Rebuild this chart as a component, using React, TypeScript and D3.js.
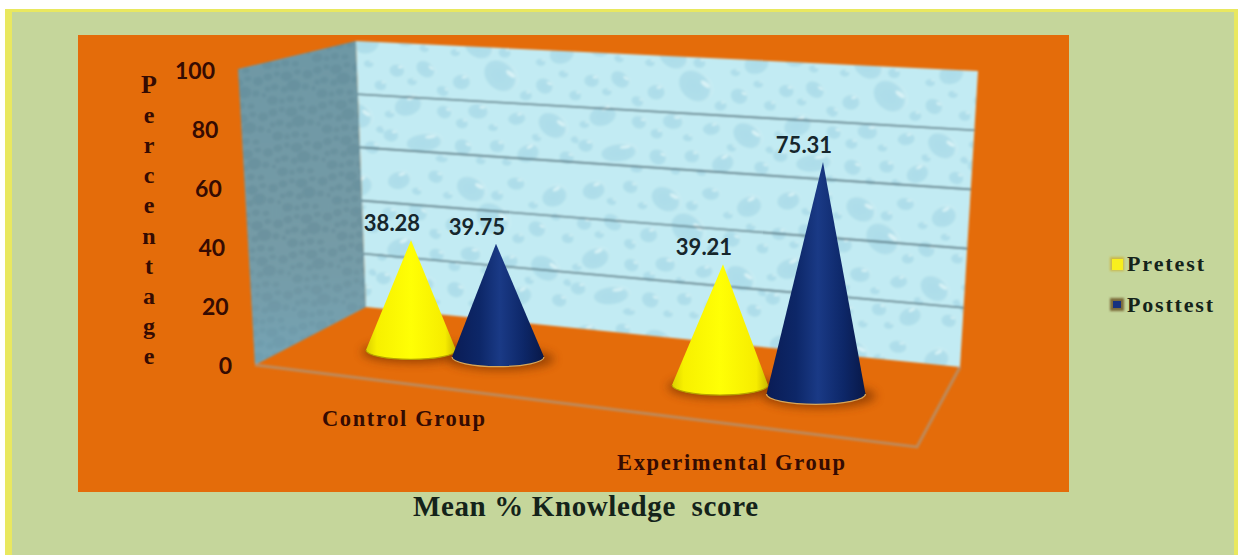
import React from "react";
import * as d3 from "d3";

// Chart values
const groups = ["Control Group", "Experimental Group"];
const seriesNames = ["Pretest", "Posttest"];
const pretest = [38.28, 39.21];
const posttest = [39.75, 75.31];
const yTicks = [0, 20, 40, 60, 80, 100];
const axisTitle = "Percentage";
const chartTitle = "Mean % Knowledge  score";

// Droplets of one wallpaper tile: x, y, rx, ry, rotation
const droplets: number[][] = [
  [14, 12, 9, 7, -20], [42, 8, 6, 5, 10], [70, 16, 12, 9, 25], [104, 10, 7, 5, 0], [134, 18, 10, 8, -30],
  [8, 38, 6, 5, 0], [30, 36, 8, 6, 30], [58, 44, 7, 6, -10], [88, 38, 14, 11, 35], [122, 44, 7, 6, 20],
  [146, 50, 5, 4, 0], [18, 64, 11, 8, -25], [46, 68, 6, 5, 15], [72, 66, 8, 6, 0], [102, 70, 7, 5, -15],
  [130, 74, 12, 9, 30], [6, 88, 6, 5, 0], [32, 92, 14, 7, -10], [62, 94, 7, 6, 20], [88, 92, 6, 5, 0],
  [112, 96, 9, 7, -30], [142, 98, 6, 5, 10], [52, 22, 4, 3, 0], [118, 26, 4, 3, 0], [84, 78, 4, 3, 0],
  [28, 20, 4, 3, 10], [90, 20, 5, 4, 0], [44, 52, 5, 4, 20], [108, 52, 5, 4, -10], [136, 34, 4, 3, 0],
  [20, 46, 4, 3, 0], [60, 76, 5, 4, 0], [118, 84, 4, 3, 15], [46, 104, 5, 3, 0], [76, 104, 4, 3, 0],
  [148, 84, 4, 3, 0], [4, 72, 4, 3, 0], [96, 104, 4, 3, 0],
];

const W = 1238;
const H = 555;
const INK = "#350b02";

// The back wall is a quadrilateral: each edge has its own value-to-pixel scale
const wallLeftY = d3.scaleLinear().domain([0, 100]).range([307, 41]);
const wallRightY = d3.scaleLinear().domain([0, 100]).range([367, 71]);
const wallLeftX = d3.scaleLinear().domain([0, 100]).range([366, 356]);
const wallRightX = d3.scaleLinear().domain([0, 100]).range([960, 978]);
const sideFrontX = d3.scaleLinear().domain([0, 100]).range([255, 238]);
const sideFrontY = d3.scaleLinear().domain([0, 100]).range([365, 69]);

// Tick labels follow the front edge of the side wall
const tickRight = d3.scaleLinear().domain([0, 100]).range([232, 215]);
const tickMiddle = d3.scaleLinear().domain([0, 100]).range([366, 71]);

// Position along the floor: group index plus a fraction for the series
const slots = [0, 0.28, 1, 1.3];
const baseX = d3.scaleLinear().domain(slots).range([411, 498, 720, 816]);
const baseY = d3.scaleLinear().domain(slots).range([350, 357, 385, 394]);
const apexX = d3.scaleLinear().domain(slots).range([411, 496, 723, 823]);
const baseR = d3.scaleLinear().domain(slots).range([45, 46, 48, 49.5]);
const unitPx = d3.scaleLinear().domain(slots).range([2.87, 2.85, 3.08, 3.08]);

type Cone = { value: number; slot: number; series: number };
const cones: Cone[] = groups.flatMap((_, g) => [
  { value: pretest[g], slot: g, series: 0 },
  { value: posttest[g], slot: g + (g === 0 ? 0.28 : 0.3), series: 1 },
]);

const polygon = (pts: [number, number][]) => (d3.line()(pts) ?? "") + "Z";

function conePath(c: Cone) {
  const x = baseX(c.slot);
  const y = baseY(c.slot);
  const r = baseR(c.slot);
  const ry = r * 0.21;
  const tipY = y - c.value * unitPx(c.slot);
  return `M${x - r},${y}L${apexX(c.slot)},${tipY}L${x + r},${y}A${r},${ry} 0 0 1 ${x - r},${y}Z`;
}

const letterSpots = d3.scaleLinear().domain([0, axisTitle.length - 1]).range([93, 364]);

const sideQuad = polygon([
  [sideFrontX(100), sideFrontY(100)],
  [wallLeftX(100), wallLeftY(100)],
  [wallLeftX(0), wallLeftY(0)],
  [sideFrontX(0), sideFrontY(0)],
]);
const backQuad = polygon([
  [wallLeftX(100), wallLeftY(100)],
  [wallRightX(100), wallRightY(100)],
  [wallRightX(0), wallRightY(0)],
  [wallLeftX(0), wallLeftY(0)],
]);

export default function App() {
  return (
    <svg
      width={W}
      height={H}
      viewBox={`0 0 ${W} ${H}`}
      style={{ position: "absolute", left: 0, top: 0, display: "block" }}
    >
      <defs>
        <radialGradient id="drop" cx="0.45" cy="0.55" r="0.6">
          <stop offset="0" stopColor="#a6d8e6" stopOpacity={0.75} />
          <stop offset="0.75" stopColor="#a4d7e5" stopOpacity={0.6} />
          <stop offset="1" stopColor="#e8fafc" stopOpacity={0.6} />
        </radialGradient>
        <pattern id="waterTile" width={150} height={110} patternUnits="userSpaceOnUse" patternTransform="rotate(3) scale(1.3)">
          <rect width={150} height={110} fill="#c2ebf3" />
          {droplets.map(([x, y, rx, ry, rot], i) => (
            <g key={i} transform={`translate(${x},${y}) rotate(${rot})`}>
              <ellipse rx={rx} ry={ry} fill="url(#drop)" />
              <ellipse cx={rx * 0.35} cy={-ry * 0.5} rx={rx * 0.3} ry={ry * 0.16} fill="#eafbfc" opacity={0.7} />
            </g>
          ))}
        </pattern>
        <pattern id="sideTile" width={50} height={36} patternUnits="userSpaceOnUse" patternTransform="rotate(-8)">
          <rect width={50} height={36} fill="#7199a5" />
          {droplets.slice(0, 15).map(([x, y, rx, ry], i) => (
            <ellipse key={i} cx={x * 0.33} cy={y * 0.46} rx={rx * 0.5} ry={ry * 0.55} fill="#628a97" opacity={0.6} />
          ))}
        </pattern>
        <linearGradient id="sideFade" x1="0" y1="0" x2="0" y2="1">
          <stop offset="0" stopColor="#5f95a8" stopOpacity={0.2} />
          <stop offset="0.6" stopColor="#8aa5ad" stopOpacity={0.12} />
          <stop offset="1" stopColor="#78b2ca" stopOpacity={0.45} />
        </linearGradient>
        <linearGradient id="cone0" x1="0" y1="0" x2="1" y2="0">
          <stop offset="0" stopColor="#dcd000" />
          <stop offset="0.12" stopColor="#f7f000" />
          <stop offset="0.5" stopColor="#ffff05" />
          <stop offset="0.88" stopColor="#f6ec00" />
          <stop offset="1" stopColor="#c9b800" />
        </linearGradient>
        <linearGradient id="cone1" x1="0" y1="0" x2="1" y2="0">
          <stop offset="0" stopColor="#0a1c55" />
          <stop offset="0.3" stopColor="#0d2768" />
          <stop offset="0.52" stopColor="#1a3a86" />
          <stop offset="0.78" stopColor="#0d2768" />
          <stop offset="1" stopColor="#081848" />
        </linearGradient>
        <filter id="soft" x="-30%" y="-80%" width="160%" height="260%">
          <feGaussianBlur stdDeviation="5" />
        </filter>
        <filter id="wallSoft" x="-2%" y="-2%" width="104%" height="104%">
          <feGaussianBlur stdDeviation="0.8" />
        </filter>
        <filter id="keySoft" x="-40%" y="-40%" width="180%" height="180%">
          <feGaussianBlur stdDeviation="1" />
        </filter>
      </defs>

      {/* Page frame */}
      <rect width={W} height={H} fill="#ffffff" />
      <rect x={5} y={9} width={W - 5} height={H - 9} fill="#e9e85f" />
      <rect x={12} y={12} width={W - 16} height={H - 12} fill="#c5d69b" />

      {/* Plot background */}
      <rect x={78} y={35} width={991} height={457} fill="#e46c0a" />

      {/* Side wall */}
      <g filter="url(#wallSoft)">
        <path d={sideQuad} fill="url(#sideTile)" />
        <path d={sideQuad} fill="url(#sideFade)" />
        {/* Back wall */}
        <path d={backQuad} fill="url(#waterTile)" />

        {/* Gridlines on the back wall */}
        {yTicks
          .filter((t) => t > 0 && t < 100)
          .map((t) => (
            <line
              key={t}
              x1={wallLeftX(t)}
              y1={wallLeftY(t)}
              x2={wallRightX(t)}
              y2={wallRightY(t)}
              stroke="#4c6a75"
              strokeWidth={1.6}
            />
          ))}

        {/* Front and right edges of the floor */}
        <path
          d={d3.line()([
            [sideFrontX(0), sideFrontY(0)],
            [917, 447],
            [wallRightX(0), wallRightY(0)],
          ]) ?? ""}
          fill="none"
          stroke="#bd8a5c"
          strokeWidth={3}
        />
      </g>

      {/* Cone shadows */}
      {cones.map((c, i) => (
        <ellipse
          key={i}
          cx={baseX(c.slot) + 3}
          cy={baseY(c.slot) + 2}
          rx={baseR(c.slot) + 7}
          ry={baseR(c.slot) * 0.24}
          fill="#7a3200"
          opacity={0.7}
          filter="url(#soft)"
        />
      ))}

      {/* Cones */}
      {cones.map((c, i) => (
        <g key={i}>
          <path d={conePath(c)} fill={`url(#cone${c.series})`} />
          <path
            d={`M${baseX(c.slot) - baseR(c.slot)},${baseY(c.slot)}A${baseR(c.slot)},${baseR(c.slot) * 0.21} 0 0 0 ${baseX(c.slot) + baseR(c.slot)},${baseY(c.slot)}`}
            fill="none"
            stroke={c.series === 1 ? "#d9a758" : "#b7a200"}
            strokeWidth={1.2}
          />
        </g>
      ))}

      {/* Value labels */}
      {cones.map((c, i) => (
        <text
          key={i}
          x={apexX(c.slot) - 19}
          y={baseY(c.slot) - c.value * unitPx(c.slot) - 9}
          textAnchor="middle"
          fontFamily="Lato, sans-serif"
          fontWeight={700}
          fontSize={22}
          fill="#16262c"
        >
          {c.value.toFixed(2)}
        </text>
      ))}

      {/* Y axis tick labels */}
      {yTicks.map((t) => (
        <text
          key={t}
          x={tickRight(t)}
          y={tickMiddle(t)}
          dy="0.35em"
          textAnchor="end"
          fontFamily="Lato, sans-serif"
          fontWeight={700}
          fontSize={23}
          fill={INK}
        >
          {t}
        </text>
      ))}

      {/* Y axis title, one letter per row */}
      {axisTitle.split("").map((ch, i) => (
        <text
          key={i}
          x={149}
          y={letterSpots(i)}
          textAnchor="middle"
          fontFamily="'Liberation Serif', serif"
          fontWeight={700}
          fontSize={i === 0 ? 26 : 24}
          fill={INK}
        >
          {ch}
        </text>
      ))}

      {/* Category labels */}
      <text x={322} y={426} textLength={163} lengthAdjust="spacing" fontFamily="'Liberation Serif', serif" fontWeight={700} fontSize={22.5} fill={INK}>
        {groups[0]}
      </text>
      <text x={617} y={470} textLength={228} lengthAdjust="spacing" fontFamily="'Liberation Serif', serif" fontWeight={700} fontSize={22.5} fill={INK}>
        {groups[1]}
      </text>

      {/* Chart title */}
      <text
        x={413}
        y={516}
        textLength={345}
        lengthAdjust="spacing"
        xmlSpace="preserve"
        style={{ whiteSpace: "pre" }}
        fontFamily="'Liberation Serif', serif"
        fontWeight={700}
        fontSize={29}
        fill="#14231a"
      >
        {chartTitle}
      </text>

      {/* Legend */}
      <rect x={1110} y={257} width={14} height={14} fill="#c9b84a" filter="url(#keySoft)" />
      <rect x={1112} y={259} width={11} height={11} fill="#f8ef1e" />
      <rect x={1110} y={298} width={14} height={13} fill="#7a6a3a" filter="url(#keySoft)" />
      <rect x={1113} y={301} width={8} height={7} fill="#16307f" />
      {seriesNames.map((name, i) => (
        <text
          key={name}
          x={1127}
          y={271 + i * 41}
          textLength={i === 0 ? 77 : 86}
          lengthAdjust="spacing"
          fontFamily="'Liberation Serif', serif"
          fontWeight={700}
          fontSize={22}
          fill="#14231a"
        >
          {name}
        </text>
      ))}
    </svg>
  );
}
